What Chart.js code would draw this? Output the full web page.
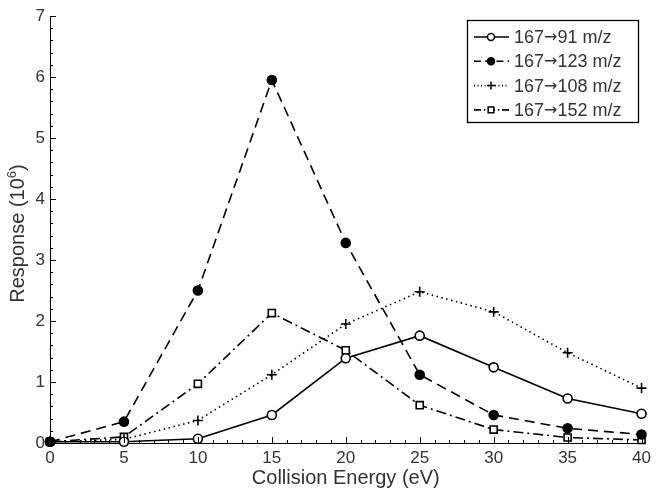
<!DOCTYPE html>
<html>
<head>
<meta charset="utf-8">
<script src="https://cdn.jsdelivr.net/npm/chart.js@4/dist/chart.umd.min.js"></script>
<style>
  html, body { margin: 0; padding: 0; background: #fff; }
  #wrap { width: 656px; height: 490px; }
</style>
</head>
<body>
<div id="wrap"><canvas id="c" width="656" height="490"></canvas></div>
<script>
// collision energy (eV)
const energies = [0, 5, 10, 15, 20, 25, 30, 35, 40]
// response in 10^6
const r91 = [0.02, 0.02, 0.07, 0.46, 1.39, 1.76, 1.24, 0.73, 0.48]
const r123 = [0.02, 0.35, 2.5, 5.95, 3.28, 1.12, 0.46, 0.24, 0.14]
const r108 = [0.02, 0.06, 0.37, 1.12, 1.95, 2.48, 2.15, 1.48, 0.9]
const r152 = [0.02, 0.1, 0.97, 2.13, 1.52, 0.62, 0.22, 0.09, 0.05]
// legend label parts: precursor, product
const precursor = '167'
const products = ['91', '123', '108', '152']

const FONT = 'Liberation Sans, Arial, sans-serif'
const TXT = '#333'

const toPts = (vals) => energies.map((x, i) => ({ x: x, y: vals[i] }))

const styles = [
	{ dash: [], point: 'circle', fill: '#fff', r: 4.5, order: 1 },
	{ dash: [10, 6], point: 'circle', fill: '#000', r: 4.5, order: 0 },
	{ dash: [1.5, 3.5], point: 'cross', fill: '#000', r: 5, order: 2 },
	{ dash: [10, 4, 2, 4], point: 'rect', fill: '#fff', r: 5, order: 3 },
]
const allVals = [r91, r123, r108, r152]

const datasets = allVals.map((vals, i) => ({
	label: precursor + '\u2192' + products[i] + ' m/z',
	data: toPts(vals),
	order: styles[i].order,
	borderColor: '#000',
	borderWidth: 1.6,
	borderDash: styles[i].dash,
	pointStyle: styles[i].point,
	pointRadius: styles[i].r,
	pointBackgroundColor: styles[i].fill,
	pointBorderColor: '#000',
	pointBorderWidth: 1.6,
	tension: 0,
	fill: false,
	clip: false,
}))

// inward ticks on left/bottom axes, and y title with superscript
const axisPlugin = {
	id: 'axisExtras',
	afterDraw(chart) {
		const ctx = chart.ctx
		const xs = chart.scales.x
		const ys = chart.scales.y
		const a = chart.chartArea
		ctx.save()
		ctx.strokeStyle = '#000'
		ctx.lineWidth = 1
		ctx.setLineDash([])
		for (let v = 0; v <= 40; v++) {
			const px = Math.round(xs.getPixelForValue(v)) + 0.5
			const len = v % 5 === 0 ? 6 : 3
			ctx.beginPath()
			ctx.moveTo(px, a.bottom)
			ctx.lineTo(px, a.bottom - len)
			ctx.stroke()
		}
		for (let k = 0; k <= 35; k++) {
			const py = Math.round(ys.getPixelForValue(k * 0.2)) + 0.5
			const len = k % 5 === 0 ? 6 : 3
			ctx.beginPath()
			ctx.moveTo(a.left, py)
			ctx.lineTo(a.left + len, py)
			ctx.stroke()
		}

		// y title: Response (10^6)
		const base = 'Response (10'
		ctx.translate(24, (a.top + a.bottom) / 2 + 4)
		ctx.rotate(-Math.PI / 2)
		ctx.fillStyle = TXT
		ctx.textBaseline = 'alphabetic'
		ctx.font = '20px ' + FONT
		const w1 = ctx.measureText(base).width
		ctx.font = '13px ' + FONT
		const w2 = ctx.measureText('6').width
		ctx.font = '20px ' + FONT
		const w3 = ctx.measureText(')').width
		let x0 = -(w1 + w2 + w3) / 2
		ctx.textAlign = 'left'
		ctx.fillText(base, x0, 0)
		ctx.font = '13px ' + FONT
		ctx.fillText('6', x0 + w1, -8)
		ctx.font = '20px ' + FONT
		ctx.fillText(')', x0 + w1 + w2, 0)
		ctx.restore()
	},
}

// boxed legend with line + marker samples
const legendPlugin = {
	id: 'boxLegend',
	afterDraw(chart) {
		const ctx = chart.ctx
		const bx = 467, by = 20, bw = 171, bh = 102
		ctx.save()
		ctx.fillStyle = '#fff'
		ctx.fillRect(bx, by, bw, bh)
		ctx.strokeStyle = '#000'
		ctx.lineWidth = 1.3
		ctx.strokeRect(bx + 0.5, by + 0.5, bw, bh)
		chart.data.datasets.forEach((ds, i) => {
			const y = by + 17 + i * 24.3
			ctx.strokeStyle = '#000'
			ctx.lineWidth = 1.6
			ctx.setLineDash(ds.borderDash.map((d) => d * 0.7))
			ctx.beginPath()
			ctx.moveTo(bx + 7, y)
			ctx.lineTo(bx + 42, y)
			ctx.stroke()
			ctx.setLineDash([])
			ctx.fillStyle = ds.pointBackgroundColor
			ctx.lineWidth = 1.5
			Chart.helpers.drawPoint(ctx, {
				pointStyle: ds.pointStyle,
				radius: ds.pointRadius - 1,
				rotation: 0,
				borderWidth: 1.5,
			}, bx + 24, y)

			// label: 167 -> product m/z
			ctx.fillStyle = TXT
			ctx.textBaseline = 'middle'
			ctx.textAlign = 'left'
			let tx = bx + 47
			ctx.font = '18px ' + FONT
			ctx.fillText(precursor, tx, y + 1)
			tx += ctx.measureText(precursor).width
			ctx.font = '16px DejaVu Sans'
			ctx.fillText('\u2192', tx, y + 1)
			tx += ctx.measureText('\u2192').width
			ctx.font = '18px ' + FONT
			ctx.fillText(products[i] + ' m/z', tx, y + 1)
		})
		ctx.restore()
	},
}

new Chart(document.getElementById('c'), {
	type: 'line',
	data: { datasets: datasets },
	options: {
		responsive: false,
		animation: false,
		layout: { padding: { left: 0, right: 11, top: 16, bottom: 0 } },
		plugins: {
			legend: { display: false },
			tooltip: { enabled: false },
		},
		scales: {
			x: {
				type: 'linear',
				min: 0,
				max: 40,
				grid: { display: false, drawTicks: false },
				border: { display: true, color: '#000', width: 1 },
				ticks: { stepSize: 5, color: TXT, font: { size: 17, family: FONT }, padding: 5 },
				title: { display: true, text: 'Collision Energy (eV)', color: TXT, font: { size: 20, family: FONT }, padding: { top: 0, bottom: 0 } },
				afterFit(s) { s.height = 47 },
			},
			y: {
				min: 0,
				max: 7,
				grid: { display: false, drawTicks: false },
				border: { display: true, color: '#000', width: 1 },
				ticks: { stepSize: 1, color: TXT, font: { size: 17, family: FONT }, padding: 5 },
				afterFit(s) { s.width = 50 },
			},
		},
	},
	plugins: [axisPlugin, legendPlugin],
})
</script>
</body>
</html>
